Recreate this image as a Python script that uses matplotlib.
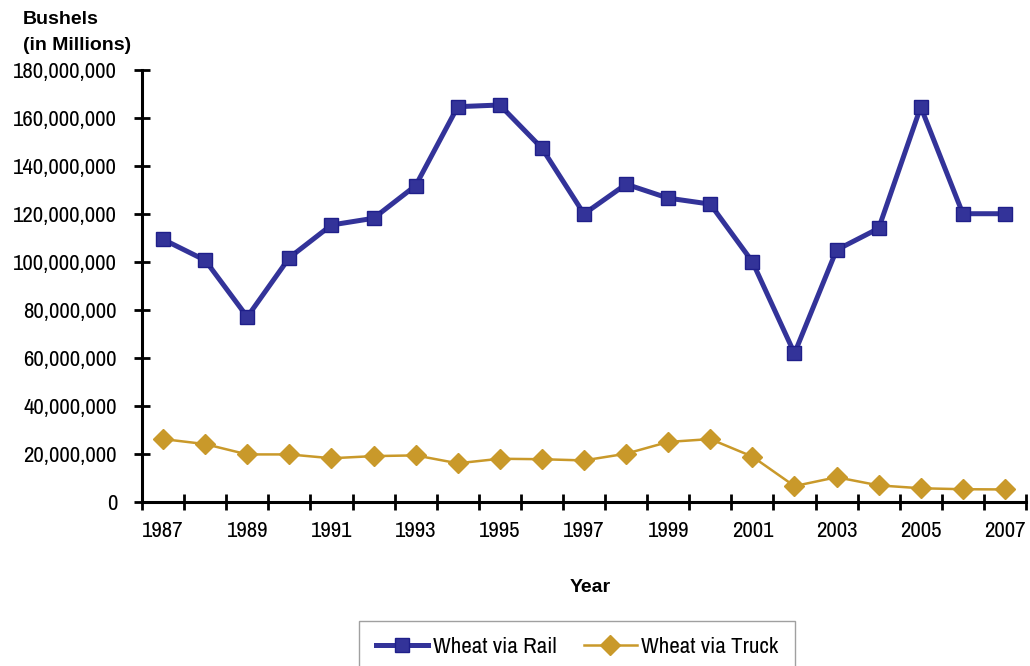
import matplotlib.pyplot as plt
from matplotlib.ticker import FuncFormatter, FixedLocator
from matplotlib import font_manager

# condensed face for numbers and legend, plain sans bold for titles
names = {f.name for f in font_manager.fontManager.ttflist}
narrow = next((n for n in ["Archivo Narrow", "Liberation Sans Narrow"] if n in names), "Liberation Sans")
plt.rcParams['font.family'] = [narrow, 'DejaVu Sans']
bold_font = ['Liberation Sans', 'DejaVu Sans']

years = list(range(1987, 2008))
rail = [109.3, 100.6, 77.0, 101.7, 115.3, 118.1, 131.7, 164.6, 165.3, 147.3,
        119.9, 132.3, 126.5, 124.0, 100.0, 61.8, 104.9, 113.9, 164.5, 120.0, 120.0]
truck = [26.1, 24.0, 19.7, 19.7, 18.1, 19.0, 19.3, 16.0, 17.9, 17.7,
         17.2, 20.0, 24.9, 26.1, 18.8, 6.5, 10.2, 6.8, 5.6, 5.2, 5.1]
rail = [v * 1e6 for v in rail]
truck = [v * 1e6 for v in truck]

fig = plt.figure(figsize=(10.3, 6.66), dpi=100)
ax = fig.add_axes([0.1379, 0.2467, 0.8582, 0.6486])

x = list(range(len(years)))
ax.plot(x, rail, color="#333399", lw=3.6, marker="s", ms=10.5,
        mfc="#333399", mec="#1f1f8a", mew=1.0, label="Wheat via Rail", zorder=3)
ax.plot(x, truck, color="#C9992A", lw=1.8, marker="D", ms=10,
        mfc="#C9992A", mec="#C9992A", label="Wheat via Truck", zorder=3)

ax.set_xlim(-0.5, len(years) - 0.5)
ax.set_ylim(0, 180e6)

# tick marks on category boundaries, labels on every other year
ax.xaxis.set_major_locator(FixedLocator([i - 0.5 for i in range(len(years) + 1)]))
ax.xaxis.set_major_formatter(FuncFormatter(lambda v, p: ""))
ax.xaxis.set_minor_locator(FixedLocator(x[::2]))
ax.set_xticklabels([str(y) for y in years[::2]], minor=True)
ax.tick_params(axis='x', which='major', direction='inout', length=12, width=2)
ax.tick_params(axis='x', which='minor', length=0, pad=14, labelsize=16.5)

ax.set_yticks([i * 20e6 for i in range(10)])
ax.yaxis.set_major_formatter(FuncFormatter(lambda v, p: f"{int(v):,}"))
ax.tick_params(axis='y', direction='inout', length=12, width=2, labelsize=16.5, pad=12)

for s in ['top', 'right']:
    ax.spines[s].set_visible(False)
for s in ['left', 'bottom']:
    ax.spines[s].set_linewidth(2.2)

fig.text(0.022, 0.970, "Bushels", fontsize=14, fontweight='bold', va='center', family=bold_font)
fig.text(0.022, 0.932, "(in Millions)", fontsize=14, fontweight='bold', va='center', family=bold_font)
fig.text(590 / 1030, 1 - 588 / 666, "Year", fontsize=14, fontweight='bold',
         ha='center', va='center', family=bold_font)

leg = fig.legend(loc='upper center', bbox_to_anchor=(577 / 1030, 1 - 621 / 666),
                 ncol=2, frameon=True, fancybox=False, fontsize=16.5,
                 handlelength=2.3, handletextpad=0.2, columnspacing=1.2,
                 borderpad=0.7, borderaxespad=0, edgecolor="#888888")
leg.get_frame().set_linewidth(1.0)

fig.savefig("out.png", dpi=100)
